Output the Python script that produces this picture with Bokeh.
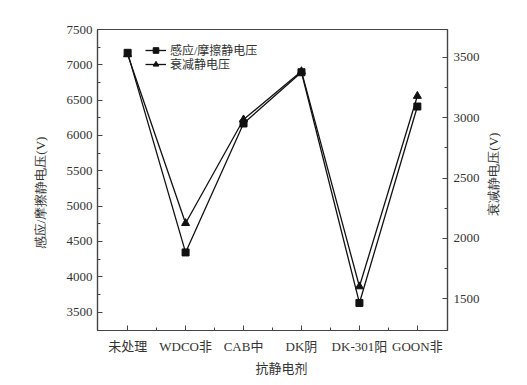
import math
from bokeh.plotting import figure
from bokeh.layouts import row
from bokeh.models import Range1d, LinearAxis, FixedTicker, Legend, LegendItem, Title
from bokeh.embed import file_html
from bokeh.resources import INLINE

categories = ["未处理", "WDCO非", "CAB中", "DK阴", "DK-301阳", "GOON非"]
induced_voltage = [7170, 4345, 6170, 6895, 3630, 6410]
decay_voltage = [3525, 2125, 2985, 3385, 1600, 3180]
left_ticks = [3500, 4000, 4500, 5000, 5500, 6000, 6500, 7000, 7500]
right_ticks = [1500, 2000, 2500, 3000, 3500]
x_title = "抗静电剂"
left_title = "感应/摩擦静电压(V)"
right_title = "衰减静电压(V)"

FONT = "Liberation Serif, Noto Sans CJK SC"
TXT = "#333333"
AX = "#444444"
H = 383

x = list(range(len(categories)))

p = figure(width=432, height=H, output_backend="svg", toolbar_location=None,
           x_range=Range1d(-0.52, len(categories) - 0.48),
           y_range=Range1d(3240, 7500),
           min_border_left=45, min_border_right=37, min_border_top=29, min_border_bottom=53)
p.extra_y_ranges = {"r": Range1d(1235, 3732)}
p.grid.visible = False
p.outline_line_color = AX
p.outline_line_width = 1.2
p.background_fill_color = "white"
p.border_fill_color = "white"

xa = p.xaxis[0]
xa.ticker = FixedTicker(ticks=x, minor_ticks=[i + 0.5 for i in x[:-1]])
xa.major_label_overrides = {i: c for i, c in enumerate(categories)}

ya = p.yaxis[0]
ya.ticker = FixedTicker(ticks=left_ticks, minor_ticks=[v + 250 for v in left_ticks[:-1]])

ra = LinearAxis(y_range_name="r",
                ticker=FixedTicker(ticks=right_ticks, minor_ticks=[v + 250 for v in right_ticks[:-1]]))
p.add_layout(ra, "right")

for ax in [xa, ya, ra]:
    ax.axis_line_color = AX
    ax.axis_line_width = 1.2
    ax.major_tick_line_color = AX
    ax.minor_tick_line_color = AX
    ax.major_tick_in = 5
    ax.major_tick_out = 0
    ax.minor_tick_in = 3
    ax.minor_tick_out = 0
    ax.major_label_text_font = FONT
    ax.major_label_text_font_size = "13px"
    ax.major_label_text_color = TXT

xa.major_label_standoff = 8
ya.major_label_standoff = 5
ra.major_label_standoff = 6

xt = Title(text=x_title, align="left", offset=158, standoff=5,
           text_font=FONT, text_font_size="13px", text_color=TXT, text_font_style="normal")
p.add_layout(xt, "below")

l1 = p.line(x, induced_voltage, line_color="#111111", line_width=1.3)
s1 = p.scatter(x, induced_voltage, marker="square", size=7, color="#111111")
l2 = p.line(x, decay_voltage, line_color="#111111", line_width=1.3, y_range_name="r")
s2 = p.scatter(x, decay_voltage, marker="triangle", size=8, color="#111111", y_range_name="r")

def make_legend(label, renderers, loc):
    lg = Legend(items=[LegendItem(label=label, renderers=renderers)], location=loc)
    lg.border_line_color = None
    lg.background_fill_alpha = 0
    lg.padding = 0
    lg.margin = 0
    lg.glyph_width = 21
    lg.glyph_height = 14
    lg.label_height = 14
    lg.label_standoff = 4
    lg.label_text_font = FONT
    lg.label_text_font_size = "12px"
    lg.label_text_color = TXT
    return lg

p.add_layout(make_legend("感应/摩擦静电压", [l1, s1], (48, 271)), "center")
p.add_layout(make_legend("衰减静电压", [l2, s2], (48, 257)), "center")


def side_title(width, text, cx, cy):
    f = figure(width=width, height=H, output_backend="svg", toolbar_location=None,
               x_range=Range1d(0, width), y_range=Range1d(0, H),
               x_axis_type=None, y_axis_type=None,
               min_border=0, min_border_left=0, min_border_right=0,
               min_border_top=0, min_border_bottom=0)
    f.grid.visible = False
    f.outline_line_color = None
    f.background_fill_color = "white"
    f.border_fill_color = "white"
    f.text(x=[cx], y=[H - cy], text=[text], angle=math.pi / 2,
           text_align="center", text_baseline="middle",
           text_font=FONT, text_font_size="13px", text_color=TXT)
    return f

left_fig = side_title(52, left_title, 40, 208)
right_fig = side_title(30, right_title, 9, 184)

layout = row(left_fig, p, right_fig, spacing=0)
open("out.html", "w").write(file_html(layout, INLINE))
